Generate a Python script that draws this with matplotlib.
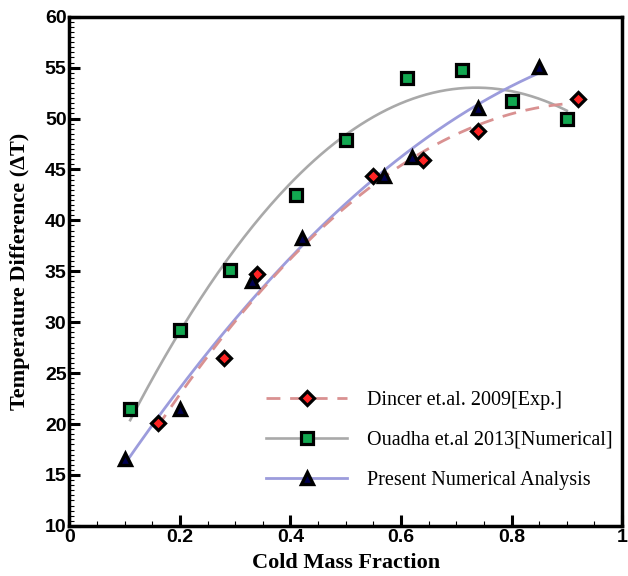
import numpy as np
import matplotlib
matplotlib.use("Agg")
import matplotlib.pyplot as plt
from matplotlib.ticker import MultipleLocator

# Data
dincer_x = [0.16, 0.28, 0.34, 0.55, 0.64, 0.74, 0.92]
dincer_y = [20.1, 26.5, 34.7, 44.4, 45.9, 48.8, 51.9]

ouadha_x = [0.11, 0.20, 0.29, 0.41, 0.50, 0.61, 0.71, 0.80, 0.90]
ouadha_y = [21.5, 29.2, 35.1, 42.5, 47.9, 54.0, 54.8, 51.7, 50.0]

present_x = [0.10, 0.20, 0.33, 0.42, 0.57, 0.62, 0.74, 0.85]
present_y = [16.6, 21.5, 34.0, 38.3, 44.4, 46.2, 51.0, 55.1]

labels = ["Dincer et.al. 2009[Exp.]", "Ouadha et.al 2013[Numerical]",
          "Present Numerical Analysis"]
xlabel = "Cold Mass Fraction"
ylabel = "Temperature Difference (\u0394T)"
xticks = [0, 0.2, 0.4, 0.6, 0.8, 1]
xticklabels = ["0", "0.2", "0.4", "0.6", "0.8", "1"]
yticks = [10, 15, 20, 25, 30, 35, 40, 45, 50, 55, 60]

fig = plt.figure(figsize=(6.28, 5.76), dpi=100)
ax = fig.add_axes([0.1105, 0.087, 0.880, 0.884])

serif = ["Liberation Serif", "DejaVu Serif"]
sans = ["Liberation Sans", "DejaVu Sans"]


def fit_curve(xs, ys, deg, x0, x1):
    c = np.polyfit(xs, ys, deg)
    xx = np.linspace(x0, x1, 200)
    return xx, np.polyval(c, xx)


dx, dy = fit_curve(dincer_x, dincer_y, 2, min(dincer_x), 0.91)
ox, oy = fit_curve(ouadha_x, ouadha_y, 2, min(ouadha_x), max(ouadha_x))
px, py = fit_curve(present_x, present_y, 2, min(present_x), max(present_x))

RED_L, GRAY_L, BLUE_L = "#d99191", "#a9a9a9", "#9c9cdc"
dash = (5, 3.5)

ax.plot(ox, oy, color=GRAY_L, lw=1.9, zorder=2)
ax.plot(px, py, color=BLUE_L, lw=2, zorder=2)
ax.plot(dx, dy, color=RED_L, lw=2, dashes=dash, zorder=2)

sq = dict(marker="s", ms=8.5, mfc="#12a850", mec="black", mew=2.3)
dm = dict(marker="D", ms=7.5, mfc="#ff2424", mec="black", mew=2.3)
tr = dict(marker="^", ms=9, mfc="#000050", mec="black", mew=2.4)

ax.plot(ouadha_x, ouadha_y, ls="none", zorder=4, **sq)
ax.plot(dincer_x, dincer_y, ls="none", zorder=5, **dm)
ax.plot(present_x, present_y, ls="none", zorder=6, **tr)

# legend proxies
h1, = ax.plot([], [], color=RED_L, lw=2, dashes=dash, **dm)
h2, = ax.plot([], [], color=GRAY_L, lw=1.9, **sq)
h3, = ax.plot([], [], color=BLUE_L, lw=2, **tr)
ax.legend([h1, h2, h3], labels, loc="upper left",
          bbox_to_anchor=(0.338, 0.285), frameon=False, handlelength=4.0,
          handletextpad=1.0, labelspacing=1.03, borderpad=0,
          prop={"family": serif, "size": 14.5})

ax.set_xlim(0, 1)
ax.set_ylim(10, 60)
ax.set_xticks(xticks)
ax.set_xticklabels(xticklabels)
ax.set_yticks(yticks)
ax.xaxis.set_minor_locator(MultipleLocator(0.05))
ax.yaxis.set_minor_locator(MultipleLocator(0.5))

ax.tick_params(which="major", direction="in", length=8, width=2.2,
               labelsize=14, pad=2)
ax.tick_params(which="minor", direction="in", length=3.5, width=0.8)
for lab in ax.get_xticklabels() + ax.get_yticklabels():
    lab.set_family(sans)
    lab.set_fontweight("bold")

for sp in ax.spines.values():
    sp.set_linewidth(2.5)

ax.set_xlabel(xlabel, family=serif, fontweight="bold", fontsize=16)
ax.set_ylabel(ylabel, family=serif, fontweight="bold", fontsize=16)
ax.xaxis.set_label_coords(0.5, -0.073, transform=ax.transAxes)
ax.yaxis.set_label_coords(-0.089, 0.5, transform=ax.transAxes)
ax.xaxis.label.set_va("center")
ax.yaxis.label.set_va("center")

fig.savefig("out.png", dpi=100)
